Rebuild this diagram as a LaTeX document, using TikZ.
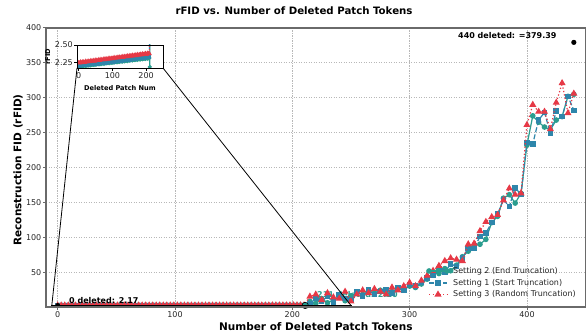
\documentclass[tikz,border=0pt]{standalone}
\usepackage{fontspec}
\setmainfont{DejaVu Sans}
\usetikzlibrary{plotmarks}
\definecolor{tealc}{HTML}{2A9D8F}
\definecolor{bluec}{HTML}{2E86AB}
\definecolor{redc}{HTML}{E63946}
\definecolor{framec}{HTML}{6A6A6A}
\definecolor{gridc}{HTML}{B8B8B8}
\begin{document}
\begin{tikzpicture}[x=1pt,y=-1pt,
  gridline/.style={draw=gridc, line width=0.7pt, dash pattern=on 1.2pt off 1.3pt},
  ticklab/.style={font=\fontsize{8}{9.6}\selectfont, text=black!85, inner sep=1pt},
  axlab/.style={font=\fontsize{10.5}{12}\selectfont\bfseries, inner sep=0pt},
  annot/.style={font=\fontsize{8}{9.6}\selectfont\bfseries, inner sep=0pt},
  inlab/.style={font=\fontsize{6.6}{8}\selectfont\bfseries, inner sep=0pt},
  legtext/.style={font=\fontsize{8}{9.6}\selectfont, text=black!85, anchor=west, inner sep=0pt},
  tealln/.style={draw=tealc, line width=1.2pt, mark=*, mark size=2.2pt, mark options={solid, fill=tealc, draw=tealc}},
  blueln/.style={draw=bluec, line width=1.2pt, dash pattern=on 5pt off 2.2pt, mark=square*, mark size=2.2pt, mark options={solid, fill=bluec, draw=bluec}},
  redln/.style={draw=redc, line width=1.2pt, dash pattern=on 1.3pt off 2.2pt, mark=triangle*, mark size=2.9pt, mark options={solid, fill=redc, draw=redc}},
  connector/.style={draw=black, line width=0.8pt}
]
\useasboundingbox (0,0) rectangle (587,336);

% title
\node[font=\fontsize{10.2}{12}\selectfont\bfseries, inner sep=0pt] (title) at (294,11) {rFID vs. Number of Deleted Patch Tokens};

% grid
\foreach \gx in {57.7,175,292.3,409.6,527} \draw[gridline] (\gx,28) -- (\gx,307);
\foreach \gy in {272.1,237.2,202.3,167.5,132.6,97.7,62.8} \draw[gridline] (46,\gy) -- (585.6,\gy);

% annotation text (under data)
\node[annot, anchor=west, text=tealc] (a211) at (317,295) {211 deleted: 2.20};

% data
\begin{scope}[xshift=57.7pt,yshift=-307pt,x=1.173pt,y=0.6975pt]
\begin{scope}
\clip (-10,0) rectangle (450,400);
\draw[tealln] plot[domain=0:210,samples=106] (\x,{2.19+0.00068*\x+0.006*sin(\x*47)})
 -- plot coordinates {(211,2.19) (215,8) (220,5) (225,12) (230,6) (235,10) (240,14) (245,9) (250,16) (255,20) (260,18) (265,22) (270,20) (275,24) (280,19) (285,22) (290,26) (295,25) (300,30) (305,28) (310,33) (315,40) (320,50) (325,48) (330,55) (335,52) (340,60) (345,72) (350,80) (355,88) (360,90) (365,97) (370,121) (375,130) (380,156) (385,161) (390,149) (395,163) (400,232) (405,274) (410,265) (415,258) (420,254) (425,268) (430,273) (435,302) (440,305)};
\draw[blueln] plot[domain=0:210,samples=106] (\x,{2.2+0.00066*\x+0.006*sin(\x*61)})
 -- plot coordinates {(215,5) (220,12) (225,8) (230,15) (235,7) (240,18) (245,12) (250,10) (255,22) (260,16) (265,24) (270,18) (275,22) (280,25) (285,20) (290,28) (295,24) (300,32) (305,30) (310,35) (315,42) (320,45) (325,55) (330,50) (335,62) (340,58) (345,70) (350,84) (355,84) (360,101) (365,106) (370,121) (375,133) (380,154) (385,144) (390,171) (395,161) (400,236) (405,234) (410,268) (415,279) (420,249) (425,281) (430,273) (435,302) (440,282)};
\draw[redln] plot[domain=0:210,samples=71] (\x,{2.23+0.00072*\x+0.008*sin(\x*73)})
 -- plot coordinates {(215,15) (220,18) (225,10) (230,20) (235,14) (240,12) (245,22) (250,8) (255,18) (260,24) (265,20) (270,26) (275,22) (280,18) (285,28) (290,24) (295,30) (300,35) (305,30) (310,38) (315,45) (320,52) (325,59) (330,66) (335,70) (340,68) (345,66) (350,90) (355,91) (360,109) (365,122) (370,129) (375,132) (380,153) (385,170) (390,161) (395,163) (400,261) (405,290) (410,280) (415,280) (420,255) (425,293) (430,321) (435,278) (440,306)};
\end{scope}
\fill[black] (0,2.17) circle[radius=2.5pt];
\draw[black, fill=tealc, line width=0.6pt] (211,2.19) circle[radius=3.2pt];
\fill[black] (440,379.39) circle[radius=2.6pt];
\end{scope}

\node[annot, anchor=west] (a0) at (69,300.7) {0 deleted: 2.17};
\node[annot, anchor=west] (a440) at (458,36) {440 deleted: =379.39};

% frame, ticks
\draw[framec, line width=1.4pt] (46,28) rectangle (585.6,307);
\foreach \gx/\lab in {57.7/0,175/100,292.3/200,409.6/300,527/400} {
  \draw[framec, line width=0.8pt] (\gx,307) -- (\gx,310.5);
  \node[ticklab, anchor=north] at (\gx,310.5) {\lab};
}
\foreach \gy/\lab in {272.1/50,237.2/100,202.3/150,167.5/200,132.6/250,97.7/300,62.8/350,27.9/400} {
  \draw[framec, line width=0.8pt] (46,\gy) -- (42.5,\gy);
  \node[ticklab, anchor=east] at (42.5,\gy) {\lab};
}
\node[axlab] (xlab) at (315.8,326.5) {Number of Deleted Patch Tokens};
\node[axlab, rotate=90] (ylab) at (18,170) {Reconstruction FID (rFID)};

% inset
\fill[white] (77,45) rectangle (163,68);
\begin{scope}
\clip (77,45) rectangle (163,68);
\begin{scope}[xshift=78.7pt,yshift=-222pt,x=0.337pt,y=70.8pt]
\draw[tealln, mark size=1.3pt] plot[domain=0:210,samples=71] (\x,{2.195+0.00057*\x+0.005*sin(\x*47)})
 -- plot coordinates {(211,2.19) (215,8)};
\draw[blueln, mark size=1.3pt] plot[domain=0:210,samples=71] (\x,{2.207+0.00058*\x+0.005*sin(\x*61)})
 -- plot coordinates {(215,5)};
\draw[redln, mark size=1.6pt] plot[domain=0:210,samples=71] (\x,{2.25+0.00063*\x+0.008*sin(\x*73)})
 -- plot coordinates {(215,15)};
\end{scope}
\end{scope}
\draw[black, line width=0.8pt] (77,45) rectangle (163,68);
\foreach \ix/\lab in {78.7/0,112.4/100,146.1/200} {
  \draw[black, line width=0.7pt] (\ix,68) -- (\ix,71);
  \node[ticklab, anchor=north] at (\ix,71) {\lab};
}
\foreach \iy/\lab in {45/2.50,62.7/2.25} {
  \draw[black, line width=0.7pt] (77,\iy) -- (74,\iy);
  \node[ticklab, anchor=east] at (74,\iy) {\lab};
}
\node[inlab, rotate=90] (inylab) at (47.8,56.5) {rFID};
\node[inlab] (inxlab) at (120,88.5) {Deleted Patch Num};

% zoom indicator and connectors
\coordinate (insetLL) at (77,68);
\coordinate (insetLR) at (163,68);
\coordinate (rectLL) at (51.8,305.5);
\coordinate (rectLR) at (351,305.5);
\draw[connector] (51.8,305.2) rectangle (351,305.8);
\draw[connector] (insetLL) -- (rectLL);
\draw[connector] (insetLR) -- (rectLR);

% legend
\draw[tealln] plot coordinates {(429,271) (438,271) (447,271)};
\node[legtext] (l1) at (453,271) {Setting 2 (End Truncation)};
\draw[blueln, mark indices={2}] plot coordinates {(429,283) (438,283) (447,283)};
\node[legtext] (l2) at (453,283) {Setting 1 (Start Truncation)};
\draw[redln, mark indices={2}] plot coordinates {(429,294.5) (438,294.5) (447,294.5)};
\node[legtext] (l3) at (453,294.5) {Setting 3 (Random Truncation)};
\end{tikzpicture}
\end{document}
